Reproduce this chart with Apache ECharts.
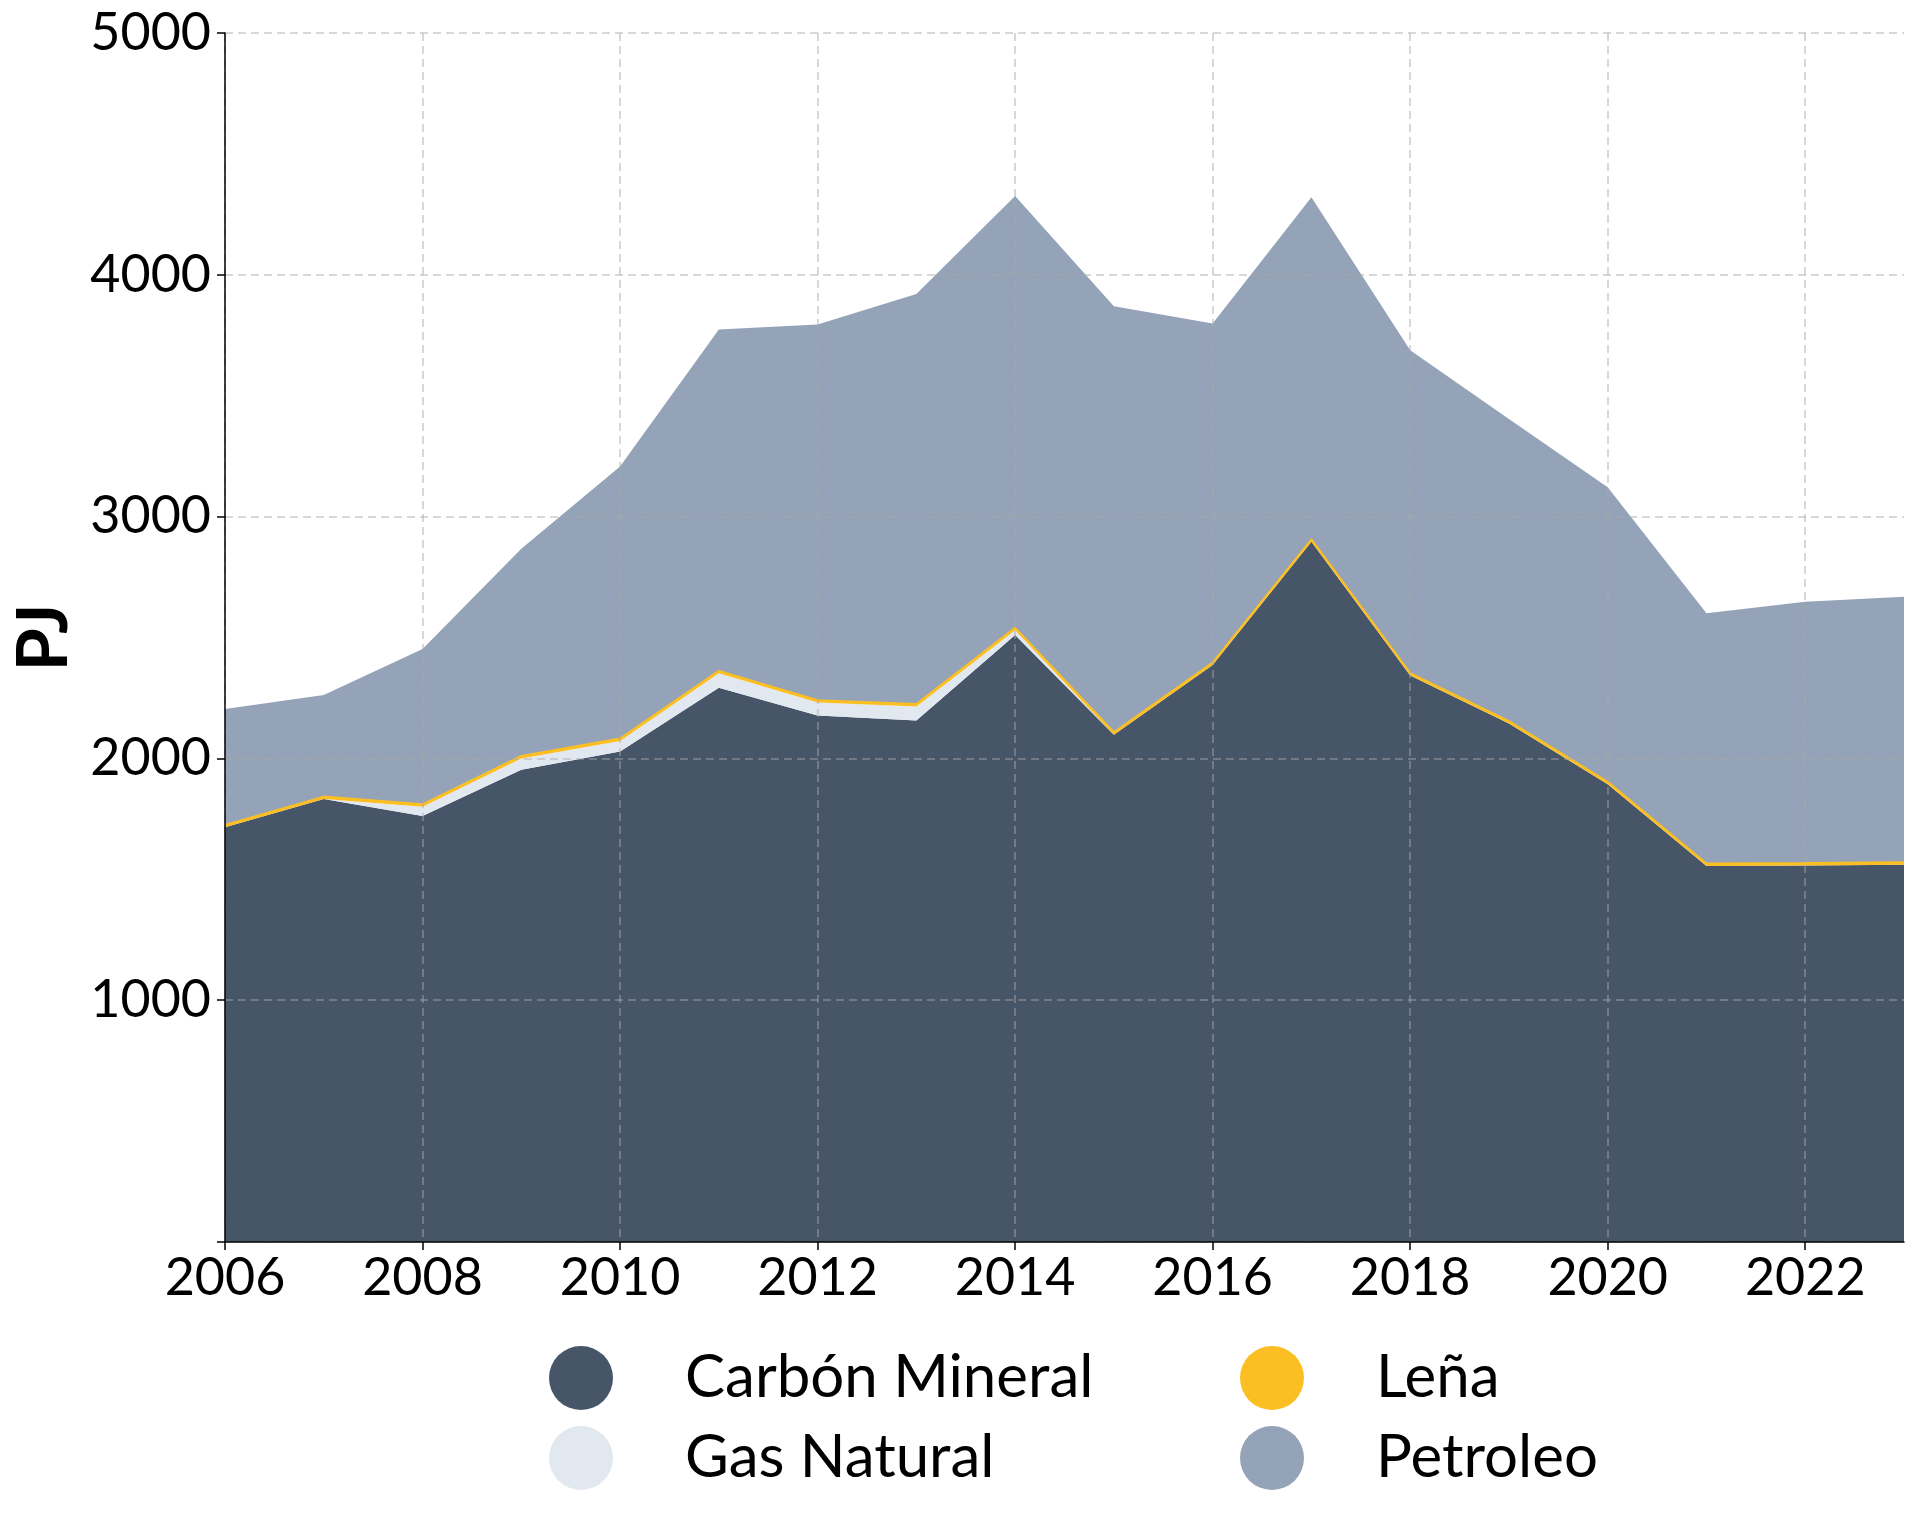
<!DOCTYPE html>
<html>
<head>
<meta charset="utf-8">
<script src="https://cdn.jsdelivr.net/npm/echarts@6/dist/echarts.min.js"></script>
<style>html,body{margin:0;padding:0;background:#fff}#c{width:1920px;height:1523px}</style>
</head>
<body>
<div id="c"></div>
<script>
const years = ['2006','2007','2008','2009','2010','2011','2012','2013','2014','2015','2016','2017','2018','2019','2020','2021','2022','2023'];
const carbonMineral = [1715,1832,1762,1953,2029,2292,2177,2157,2510,2098,2386,2896,2343,2144,1893,1555,1557,1560];
const gasNatural    = [0,0,38,47,43,60,54,58,20,0,0,0,0,0,0,0,0,0];
const lena          = [10,10,10,10,10,10,10,10,10,10,10,10,10,10,10,10,10,10];
const petroleo      = [479,420,642,857,1125,1412,1553,1696,1786,1762,1403,1415,1335,1250,1218,1035,1081,1099];
const yTicks = [0,1000,2000,3000,4000,5000];

const FONT = 'Lato';
const chart = echarts.init(document.getElementById('c'), null, {renderer:'canvas'});
const gridLine = {show:true, lineStyle:{color:'rgba(170,170,170,0.6)', type:[8,5], width:1.5}};
function area(name, data, color, lineW, lineColor){
  return {name, type:'line', stack:'total', data, symbol:'none', smooth:false,
    lineStyle:{width:lineW, color:lineColor||color}, itemStyle:{color},
    areaStyle:{color, opacity:1}, emphasis:{disabled:true}};
}
const legendText = {fontSize:60, color:'#000', fontFamily:FONT, padding:[0,0,0,67]};
chart.setOption({
  animation:false,
  textStyle:{fontFamily:FONT},
  grid:{left:225, right:16, top:33, bottom:281, containLabel:false},
  xAxis:{type:'category', data:years, boundaryGap:false, z:10,
    axisLine:{show:true, lineStyle:{color:'#000', width:1.5}},
    axisTick:{show:true, interval:1, length:8, lineStyle:{color:'#000', width:1.5}},
    axisLabel:{interval:1, color:'#000', fontSize:52, fontFamily:FONT, margin:10},
    splitLine:Object.assign({interval:1}, gridLine)},
  yAxis:{type:'value', min:yTicks[0], max:yTicks[yTicks.length-1], interval:1000, z:10,
    name:'PJ', nameLocation:'middle', nameGap:134, nameRotate:90,
    nameTextStyle:{fontSize:70, fontWeight:'bold', color:'#000', fontFamily:FONT},
    axisLine:{show:true, lineStyle:{color:'#000', width:1.5}},
    axisTick:{show:true, length:8, lineStyle:{color:'#000', width:1.5}},
    axisLabel:{color:'#000', fontSize:52, fontFamily:FONT, margin:14,
      formatter:v => v===0 ? '' : String(v)},
    splitLine:gridLine},
  legend:[
    {data:['Carbón Mineral','Gas Natural'], orient:'vertical', left:544, top:1341,
     icon:'circle', itemWidth:64, itemHeight:64, itemGap:16, textStyle:legendText},
    {data:['Leña','Petroleo'], orient:'vertical', left:1235, top:1341,
     icon:'circle', itemWidth:64, itemHeight:64, itemGap:16, textStyle:legendText}
  ],
  series:[
    area('Carbón Mineral', carbonMineral, '#475569', 0),
    area('Gas Natural', gasNatural, '#e2e8f0', 0),
    area('Leña', lena, '#fbbf24', 2),
    area('Petroleo', petroleo, '#94a3b8', 0)
  ]
});
</script>
</body>
</html>
